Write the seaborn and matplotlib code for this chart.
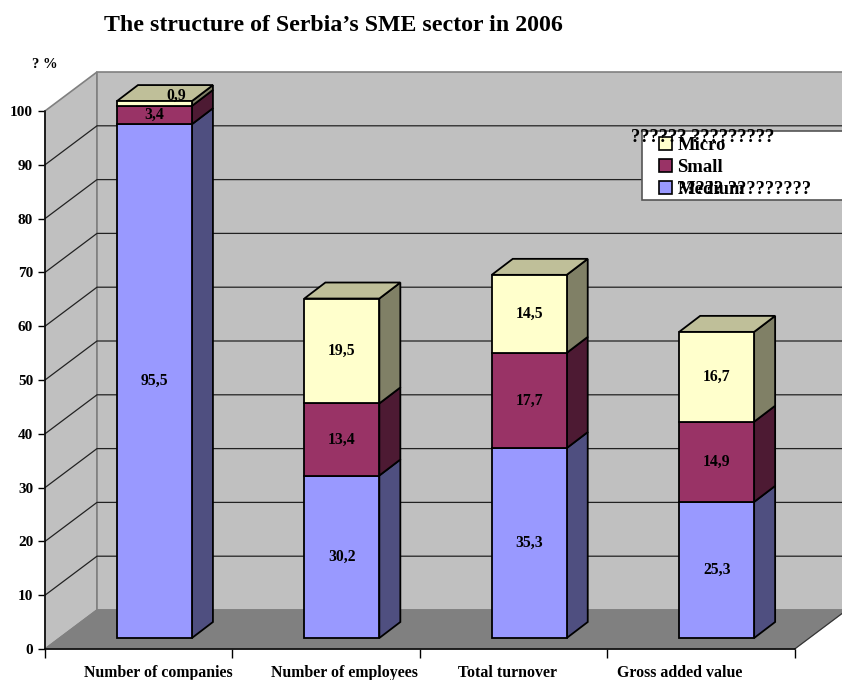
"""Serbia SME structure: stacked bars with a hand-built 3D look."""
import matplotlib; matplotlib.use("Agg")
import matplotlib.pyplot as plt
from matplotlib.patches import Patch, Polygon, Rectangle
import numpy as np
import seaborn as sns

categories = ["Number of companies", "Number of employees", "Total turnover", "Gross added value"]
medium = [95.5, 30.2, 35.3, 25.3]
small = [3.4, 13.4, 17.7, 14.9]
micro = [0.9, 19.5, 14.5, 16.7]
value_ticks = [0, 10, 20, 30, 40, 50, 60, 70, 80, 90, 100]

W, H = 842, 680
PX_X, PX_Y = 187.4, 5.38     # pixels per category / per percent
category_label_x = [158, 344, 507, 680]

sns.set_theme(style="white")
plt.rcParams.update({"font.family": ["Liberation Serif", "DejaVu Sans"], "font.weight": "bold",
                     "text.color": "black", "xtick.labelcolor": "black", "ytick.labelcolor": "black"})
fig = plt.figure(figsize=(W/100, H/100), dpi=100, facecolor="white")

def add_axes(left, bottom):
    return fig.add_axes([left/W, 1-bottom/H, 4*PX_X/W, 100*PX_Y/H])

def px_text(x, y, s, size, ha="left", zorder=None):
    t = fig.text(x/W, 1-y/H, s, fontsize=size, ha=ha, va="center", fontweight="bold", color="black")
    if zorder is not None: t.set_zorder(zorder)
    return t

# room: side wall, back wall, floor, gridlines
ax = add_axes(45, 649)
ax.set_xlim(-0.5, 3.5); ax.set_ylim(0, 100); ax.patch.set_alpha(0)
wx, wy = 52/PX_X, 39/PX_Y
x0, x1 = -0.5, 3.5
edge = "#808080"
ax.add_patch(Polygon([(x0, 0), (x0+wx, wy), (x0+wx, 100+wy), (x0, 100)], fc="#c0c0c0", ec=edge, lw=1.2, clip_on=False, zorder=1))
ax.add_patch(Polygon([(x0+wx, wy), (x1+wx, wy), (x1+wx, 100+wy), (x0+wx, 100+wy)], fc="#c0c0c0", ec=edge, lw=1.2, clip_on=False, zorder=1))
ax.add_patch(Polygon([(x0, 0), (x1, 0), (x1+wx, wy), (x0+wx, wy)], fc="#808080", ec=edge, lw=1, clip_on=False, zorder=1))
ax.plot([x1, x1+wx], [0, wy], color="#333333", lw=0.8, clip_on=False, zorder=2)
for v in value_ticks[1:-1]:
    ax.plot([x0, x0+wx, x1+wx], [v, v+wy, v+wy], color="#222222", lw=0.9, clip_on=False, zorder=2)
sns.despine(ax=ax)
for s in ["left", "bottom"]:
    ax.spines[s].set_color("black"); ax.spines[s].set_linewidth(1.1); ax.spines[s].set_zorder(3)
ax.set_yticks(value_ticks); ax.set_xticks(np.arange(x0, x1+1))
ax.set_xticklabels([])
ax.tick_params(axis="y", length=5, width=1, color="black", left=True, pad=3.5, labelsize=11)
ax.tick_params(axis="x", length=6.5, width=1, color="black", bottom=True)

# bars stand a little inside the floor
ax_bar = add_axes(60.75, 638)
ax_bar.patch.set_alpha(0)
dx, dy = 21/PX_X, 16/PX_Y
bottoms = np.zeros(len(categories))
series = [("Medium", medium, "#9999ff", "#4f4f80"),
          ("Small", small, "#993366", "#4d1a33"),
          ("Micro", micro, "#ffffcc", "#808066")]
for name, vals, col, side in series:
    sns.barplot(x=categories, y=vals, bottom=bottoms, color=col, saturation=1, width=0.4,
                edgecolor="black", linewidth=1.3, ax=ax_bar, zorder=4)
    for bar, v, b in zip(ax_bar.containers[-1], vals, bottoms):
        l, r = bar.get_x(), bar.get_x()+bar.get_width()
        ax_bar.add_patch(Polygon([(r, b), (r+dx, b+dy), (r+dx, b+v+dy), (r, b+v)],
                                 fc=side, ec="black", lw=1.3, clip_on=False, zorder=3.5))
        if name == "Micro":
            ax_bar.add_patch(Polygon([(l, b+v), (l+dx, b+v+dy), (r+dx, b+v+dy), (r, b+v)],
                                     fc="#bfbf99", ec="black", lw=1.3, clip_on=False, zorder=3.5))
        lx, ly = l+bar.get_width()/2, b+v/2
        if v < 1:   # too thin, label sits on the top face
            lx, ly = lx+22/PX_X, ly+8/PX_Y
        ax_bar.text(lx, ly, f"{v:.1f}".replace(".", ","), ha="center", va="center",
                    fontsize=11.3, fontweight="bold", color="black", zorder=6)
    bottoms = bottoms + np.array(vals)
ax_bar.set(xlim=(-0.5, 3.5), ylim=(0, 100), xlabel="", ylabel="")
ax_bar.axis("off")
for p in ax_bar.patches: p.set_clip_on(False)

for c, x in zip(categories, category_label_x):
    px_text(x, 673, c, 11.4, ha="center")
px_text(104, 25.5, "The structure of Serbia\u2019s SME sector in 2006", 17.2)
px_text(32, 65, "? %", 10.5)

# legend box runs off the right edge
fig.add_artist(Rectangle((642/W, 1-200/H), 210/W, 69/H, transform=fig.transFigure,
                         fc="white", ec="#555555", lw=1.2, zorder=10))
handles = [Patch(fc=s[2], ec="black", lw=1.2) for s in series[::-1]]
leg = fig.legend(handles, [s[0] for s in series[::-1]], loc="center left",
                 bbox_to_anchor=(659/W, 1-167.5/H), frameon=False, fontsize=13.5, labelcolor="black",
                 handlelength=0.68, handleheight=0.68, handletextpad=0.3, labelspacing=0.25,
                 borderpad=0, borderaxespad=0)
leg.set_zorder(11)
px_text(631, 137, "?????? ?????????", 13.2, zorder=12)
px_text(677, 189, "????? ?????????", 13.2, zorder=12)

fig.savefig("out.png", dpi=100, facecolor="white")
